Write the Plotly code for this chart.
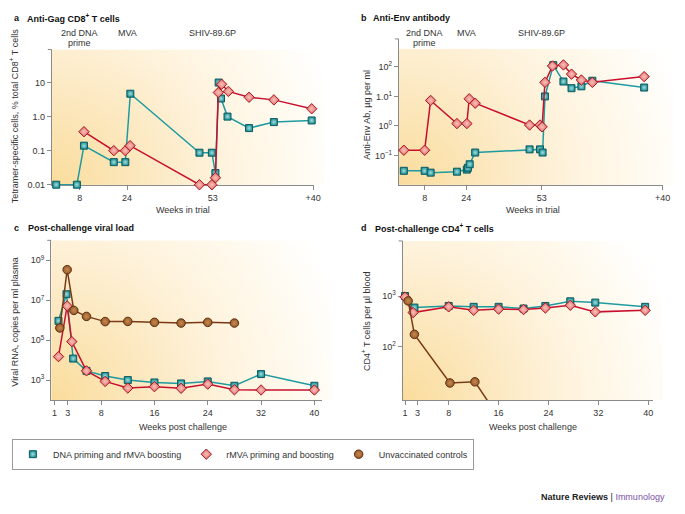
import base64
import plotly.graph_objects as go

# ---------------- data ----------------
event_weeks = [8, 24, 53]
event_labels = [["2nd DNA", "prime"], ["MVA"], ["SHIV-89.6P"]]

# panel a: anti-Gag CD8+ T cells (% tetramer+)
a_teal_wk = [0, 7, 9.4, 19.5, 23.4, 25.1, 48.5, 52.7, 53.9, 55.0, 55.8, 58.0, 65.3, 73.7, 86.5]
a_teal_val = [0.01, 0.01, 0.14, 0.046, 0.046, 4.7, 0.087, 0.087, 0.022, 10, 3.4, 1.0, 0.46, 0.69, 0.77]
a_red_wk = [9.4, 19.5, 23.4, 25.0, 48.5, 52.7, 53.9, 54.9, 56.0, 58.3, 65.3, 73.7, 86.5]
a_red_val = [0.36, 0.10, 0.10, 0.14, 0.01, 0.01, 0.016, 5.1, 8.9, 5.5, 3.7, 3.1, 1.7]
a_xticks = [8, 24, 53, 87]
a_xticktext = ["8", "24", "53", "+40"]
a_yticks = [0.01, 0.1, 1, 10]
a_yticktext = ["0.01", "0.1", "1.0", "10"]

# panel b: anti-Env antibody (ug/ml)
b_teal_wk = [0, 8, 10.3, 20.4, 24.2, 24.6, 25.3, 27.4, 48.3, 52.3, 53.3, 54.2, 57.4, 61.3, 64.4, 68.2, 72.4, 92.3]
b_teal_val = [0.03, 0.03, 0.026, 0.028, 0.033, 0.038, 0.05, 0.125, 0.16, 0.16, 0.125, 10, 115, 32, 19, 22, 34, 20]
b_red_wk = [0, 8, 10.3, 20.4, 24.2, 25.1, 27.4, 48.3, 52.3, 53.1, 54.2, 57.1, 61.3, 64.4, 68.2, 72.4, 92.3]
b_red_val = [0.15, 0.15, 7.3, 1.2, 1.2, 8.3, 5.9, 1.07, 1.07, 0.93, 30, 108, 117, 57, 36, 30, 47]
b_xticks = [8, 24, 53, 99.4]
b_xticktext = ["8", "24", "53", "+40"]
b_yticks = [0.1, 1, 10, 100]
b_yticktext = ["10<sup>\u22121</sup>", "10<sup>0</sup>", "1.0<sup>1</sup>", "10<sup>2</sup>"]

# panel c: post-challenge viral load (copies/ml)
c_teal_wk = [1.6, 2.8, 3.8, 5.8, 8.6, 12, 16, 20, 24, 28, 32, 40]
c_teal_val = [9.3e5, 2.0e7, 1.2e4, 2.9e3, 1.6e3, 1.0e3, 7.6e2, 6.8e2, 8.6e2, 5.2e2, 2.0e3, 5.2e2]
c_red_wk = [1.6, 2.9, 3.6, 5.8, 8.6, 12, 16, 20, 24, 28, 32, 40]
c_red_val = [1.5e4, 5.2e6, 8.5e4, 2.9e3, 8.6e2, 4.0e2, 4.7e2, 3.9e2, 6.3e2, 3.3e2, 3.2e2, 3.2e2]
c_brown_wk = [1.8, 2.9, 3.9, 5.8, 8.6, 12, 16, 20, 24, 28]
c_brown_val = [4.1e5, 3.4e8, 3.1e6, 1.55e6, 8.5e5, 8.7e5, 7.8e5, 7.2e5, 7.8e5, 7.2e5]
c_yticks = [1e3, 1e5, 1e7, 1e9]
c_yticktext = ["10<sup>3</sup>", "10<sup>5</sup>", "10<sup>7</sup>", "10<sup>9</sup>"]

# panel d: post-challenge CD4+ T cells (per ul)
d_teal_wk = [1, 2.5, 8, 12, 16, 20, 23.5, 27.5, 31.5, 39.5]
d_teal_val = [1000, 590, 635, 610, 610, 565, 635, 785, 740, 610]
d_red_wk = [1, 2.3, 8, 12, 16, 20, 23.5, 27.5, 31.5, 39.5]
d_red_val = [955, 470, 610, 520, 550, 540, 580, 655, 485, 520]
d_brown_wk = [1.5, 2.5, 8.2, 12.2, 16]
d_brown_val = [800, 174, 19, 20, 4]
d_yticks = [100, 1000]
d_yticktext = ["10<sup>2</sup>", "10<sup>3</sup>"]

post_xticks = [1, 3, 8, 16, 24, 32, 40]
post_xticktext = ["1", "3", "8", "16", "24", "32", "40"]

names = ["DNA priming and rMVA boosting", "rMVA priming and boosting", "Unvaccinated controls"]

# ---------------- style ----------------
W, H = 685, 514
FONT = "Liberation Sans, Arial, Helvetica, sans-serif"
TXT = "#333333"
AXC = "#8a8a8a"


def fnt(size=9, color=TXT):
    return dict(family=FONT, size=size, color=color)


TEAL_M = dict(symbol="square", size=7, color="#1E9398",
              line=dict(color="#0B5B60", width=1),
              gradient=dict(type="radial", color="#A6DCDB"))
RED_M = dict(symbol="diamond", size=8, color="#E06A6A",
             line=dict(color="#A8171F", width=1),
             gradient=dict(type="radial", color="#F8C4BC"))
BROWN_M = dict(symbol="circle", size=8.5, color="#9A5B2B",
               line=dict(color="#5A2F10", width=1),
               gradient=dict(type="radial", color="#C88A50"))
TEAL_L = dict(color="#1F9AA0", width=1.5)
RED_L = dict(color="#C8102E", width=1.5)
BROWN_L = dict(color="#7A3A15", width=1.5)


def px_x(p):
    return p / W


def px_y(p):
    return 1 - p / H


def bg_uri(w, h):
    r = 1.1 * w
    svg = (
        f'<svg xmlns="http://www.w3.org/2000/svg" width="{w}" height="{h}" '
        f'viewBox="0 0 {w} {h}" preserveAspectRatio="none">'
        f'<defs><radialGradient id="g" gradientUnits="userSpaceOnUse" cx="0" cy="{h}" r="{r}">'
        '<stop offset="0" stop-color="#FADC9C"/>'
        '<stop offset="0.3" stop-color="#FCE8BF"/>'
        '<stop offset="0.55" stop-color="#FEF2DB"/>'
        '<stop offset="0.8" stop-color="#FFFAEF"/>'
        '<stop offset="1" stop-color="#FFFFFF"/>'
        '</radialGradient></defs>'
        f'<rect x="0" y="0" width="{w}" height="{h}" fill="url(#g)"/></svg>'
    )
    return "data:image/svg+xml;base64," + base64.b64encode(svg.encode()).decode()


# panel geometry in pixels: (left, right, top, bottom)
geo = {
    "a": (52.3, 317.3, 50.0, 186.7),
    "b": (403.0, 670.0, 39.3, 186.7),
    "c": (51.7, 325.0, 242.7, 404.0),
    "d": (406.7, 660.0, 243.3, 404.0),
}
ax_id = {"a": "", "b": "2", "c": "3", "d": "4"}

fig = go.Figure()


def add(panel, x, y, marker, line, name):
    i = ax_id[panel]
    fig.add_trace(go.Scatter(
        x=x, y=y, mode="lines+markers", marker=marker, line=line,
        name=name, legendgroup=name, showlegend=False, cliponaxis=False,
        xaxis="x" + i, yaxis="y" + i, hoverinfo="skip"))


add("a", a_teal_wk, a_teal_val, TEAL_M, TEAL_L, names[0])
add("a", a_red_wk, a_red_val, RED_M, RED_L, names[1])
add("b", b_teal_wk, b_teal_val, TEAL_M, TEAL_L, names[0])
add("b", b_red_wk, b_red_val, RED_M, RED_L, names[1])
add("c", c_teal_wk, c_teal_val, TEAL_M, TEAL_L, names[0])
add("c", c_red_wk, c_red_val, RED_M, RED_L, names[1])
add("c", c_brown_wk, c_brown_val, BROWN_M, BROWN_L, names[2])
add("d", d_teal_wk, d_teal_val, TEAL_M, TEAL_L, names[0])
add("d", d_red_wk, d_red_val, RED_M, RED_L, names[1])
add("d", d_brown_wk, d_brown_val, BROWN_M, BROWN_L, names[2])

# legend entries (marker only, as in the reference key)
for nm, mk in zip(names, (TEAL_M, RED_M, BROWN_M)):
    fig.add_trace(go.Scatter(x=[None], y=[None], mode="markers", marker=mk, name=nm,
                             legendgroup=nm, showlegend=True, xaxis="x3", yaxis="y3"))


def xaxis(panel, rng, tv, tt):
    l, r, t, b = geo[panel]
    return dict(domain=[px_x(l), px_x(r)], range=rng, tickvals=tv, ticktext=tt,
                anchor="y" + ax_id[panel], showline=True, linecolor=AXC, linewidth=1,
                ticks="outside", ticklen=4, tickcolor=AXC, tickwidth=1,
                tickfont=fnt(), showgrid=False, zeroline=False, layer="below traces")


def yaxis(panel, rng, tv, tt):
    l, r, t, b = geo[panel]
    return dict(type="log", domain=[px_y(b), px_y(t)], range=rng,
                tickvals=tv, ticktext=tt,
                anchor="x" + ax_id[panel], showline=True, linecolor=AXC, linewidth=1,
                ticks="outside", ticklen=4, tickcolor=AXC, tickwidth=1,
                tickfont=fnt(), showgrid=False, zeroline=False, layer="below traces")


layout = dict(
    width=W, height=H, autosize=False,
    margin=dict(l=0, r=0, t=0, b=0),
    paper_bgcolor="white", plot_bgcolor="rgba(0,0,0,0)",
    font=fnt(),
    xaxis=xaxis("a", [-1.5, 87.3], a_xticks, a_xticktext),
    yaxis=yaxis("a", [-2.005, 1.97], a_yticks, a_yticktext),
    xaxis2=xaxis("b", [-1.9, 99.6], b_xticks, b_xticktext),
    yaxis2=yaxis("b", [-2.0, 2.95], b_yticks, b_yticktext),
    xaxis3=xaxis("c", [0.5, 41.1], post_xticks, post_xticktext),
    yaxis3=yaxis("c", [2.0, 10.0], c_yticks, c_yticktext),
    xaxis4=xaxis("d", [0.6, 40.8], post_xticks, post_xticktext),
    yaxis4=yaxis("d", [0.94, 4.09], d_yticks, d_yticktext),
    legend=dict(orientation="h", x=px_x(12), y=px_y(443), xanchor="left", yanchor="top",
                bordercolor="#9a9a9a", borderwidth=1, bgcolor="white",
                font=fnt(), itemwidth=30, traceorder="normal"),
    showlegend=True,
)
fig.update_layout(**layout)

# background gradients
images = []
for p in "abcd":
    l, r, t, b = geo[p]
    top = 49.3 if p == "b" else t
    w, h = r - l, b - top
    frac = (b - top) / (b - t)
    images.append(dict(source=bg_uri(round(w), round(h)), xref="x" + ax_id[p] + " domain",
                       yref="y" + ax_id[p] + " domain", x=0, y=frac, sizex=1.04, sizey=frac,
                       xanchor="left", yanchor="top", sizing="stretch", layer="below"))
fig.update_layout(images=images)

shapes = []
# small end cap ticks at top of each y axis
for p in "abcd":
    l, r, t, b = geo[p]
    shapes.append(dict(type="line", xref="x" + ax_id[p] + " domain", yref="y" + ax_id[p] + " domain",
                       x0=-4.0 / (r - l), x1=0, y0=1, y1=1, line=dict(color=AXC, width=1)))

# event dashed lines + labels
ann = []
for p, col, top_frac in (("a", "#6e6e6e", 1.0), ("b", "#222222", (186.7 - 49.3) / (186.7 - 39.3))):
    for wk, labs in zip(event_weeks, event_labels):
        shapes.append(dict(type="line", xref="x" + ax_id[p], yref="y" + ax_id[p] + " domain",
                           x0=wk, x1=wk, y0=0, y1=top_frac, layer="below",
                           line=dict(color=col, width=1, dash="dash")))
        for k, lab in enumerate(labs):
            ann.append(dict(text=lab, xref="x" + ax_id[p], yref="paper", x=wk,
                            y=px_y(33.3 + 10 * k), xanchor="center", yanchor="middle",
                            showarrow=False, font=fnt()))
fig.update_layout(shapes=shapes)

# panel titles
titles = [
    ("a", 12, 25, 18.3, "Anti-Gag CD8<sup>+</sup> T cells"),
    ("b", 363, 375, 18.3, "Anti-Env antibody"),
    ("c", 12, 26, 230, "Post-challenge viral load"),
    ("d", 363, 377, 230, "Post-challenge CD4<sup>+</sup> T cells"),
]
for letter, lx, tx, ty, t in titles:
    ann.append(dict(text=f"<b>{letter}</b>", xref="paper", yref="paper", x=px_x(lx), y=px_y(ty),
                    xanchor="left", yanchor="middle", showarrow=False, font=fnt(9, "#111")))
    ann.append(dict(text=f"<b>{t}</b>", xref="paper", yref="paper", x=px_x(tx), y=px_y(ty),
                    xanchor="left", yanchor="middle", showarrow=False, font=fnt(9, "#111")))

# axis titles
ytitles = [
    (15, 117.5, "Tetramer-specific cells, % total CD8<sup>+</sup> T cells"),
    (370, 115.7, "Anti-Env Ab, \u00b5g per ml"),
    (15, 325, "Viral RNA, copies per ml plasma"),
    (370, 324, "CD4<sup>+</sup> T cells per \u00b5l blood"),
]
for x, y, t in ytitles:
    ann.append(dict(text=t, xref="paper", yref="paper", x=px_x(x), y=px_y(y),
                    xanchor="center", yanchor="middle", textangle=-90, showarrow=False,
                    font=fnt()))
xtitles = [
    (185, 211.7, "Weeks in trial"),
    (538, 211.7, "Weeks in trial"),
    (185, 430.7, "Weeks post challenge"),
    (538, 430.7, "Weeks post challenge"),
]
for x, y, t in xtitles:
    ann.append(dict(text=t, xref="paper", yref="paper", x=px_x(x), y=px_y(y),
                    xanchor="center", yanchor="middle", showarrow=False, font=fnt()))

ann.append(dict(text='<b>Nature Reviews</b> | <span style="color:#7B4FA8">Immunology</span>',
                xref="paper", yref="paper", x=px_x(674), y=px_y(501.7),
                xanchor="right", yanchor="middle", showarrow=False, font=fnt(9, "#222")))
fig.update_layout(annotations=ann)

fig.write_html(
    "out.html",
    config={"displayModeBar": False, "staticPlot": True},
    post_script="document.documentElement.style.margin='0';"
                "document.body.style.margin='0';document.body.style.padding='0';"
                "document.body.style.overflow='hidden';",
)
